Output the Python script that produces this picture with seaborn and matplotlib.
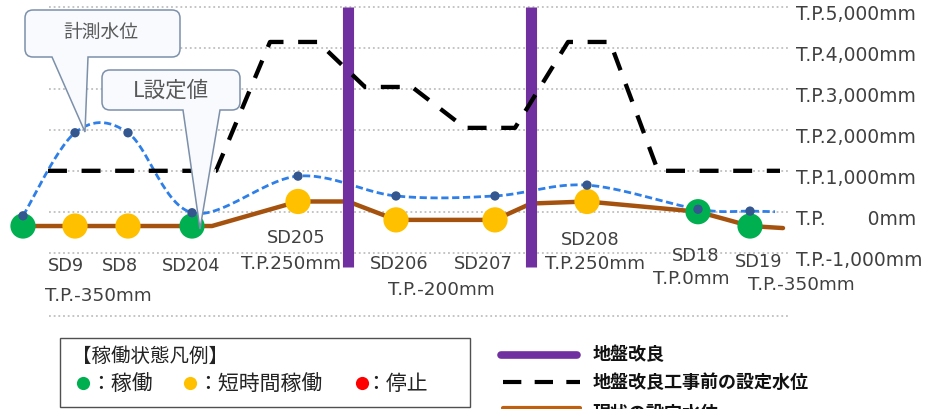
import numpy as np
import pandas as pd
import matplotlib
matplotlib.use("Agg")
import matplotlib.pyplot as plt
import matplotlib.transforms as mtransforms
from matplotlib.path import Path
from matplotlib.patches import PathPatch, Rectangle
from matplotlib.lines import Line2D
import seaborn as sns

# ---------------------------------------------------------------- data
# drainage pump stations along the route (position = chainage, drawing units)
stations = ["", "SD9", "SD8", "SD204", "SD205", "SD206", "SD207", "SD208", "SD18", "SD19"]
station_pos = [23, 75, 128, 192, 298, 396, 495, 587, 698, 750]
station_status = ["稼働", "短時間稼働", "短時間稼働", "稼働", "短時間稼働",
                  "短時間稼働", "短時間稼働", "短時間稼働", "稼働", "稼働"]
# current set water level at each station (mm, T.P.)
station_setting = [-350, -350, -350, -350, 250, -200, -200, 250, 0, -350]

# current set level line, incl. the breaks at the ground-improvement walls
setting_pos = [23, 75, 128, 192, 212, 298, 348, 396, 495, 531, 587, 698, 750, 783]
setting_level = [-350, -350, -350, -350, -350, 250, 250, -200, -200, 200, 250, 0, -350, -400]

# measured water level (mm, T.P.); the last point closes the curve
measured_pos = [23, 75, 128, 192, 298, 396, 495, 587, 698, 750, 775]
measured_level = [-100, 1930, 1930, -25, 870, 385, 385, 650, 60, 15, 0]

# set level before the ground-improvement works (mm, T.P.)
pre_pos = [48, 216, 270, 318, 365, 412, 465, 515, 568, 610, 658, 780]
pre_level = [1000, 1000, 4150, 4150, 3050, 3050, 2050, 2050, 4150, 4150, 1000, 1000]

# ground-improvement walls
improvement_pos = [348, 531]
improvement_top = 5000
improvement_bottom = -1350

level_ticks = [5000, 4000, 3000, 2000, 1000, 0, -1000]
level_ticklabels = ["T.P.5,000mm", "T.P.4,000mm", "T.P.3,000mm", "T.P.2,000mm",
                    "T.P.1,000mm", "T.P.       0mm", "T.P.-1,000mm"]

status_colors = {"稼働": "#00B050", "短時間稼働": "#FFC000", "停止": "#FF0000"}

# ---------------------------------------------------------------- style
W, H = 932, 409
sns.set_theme(style="white")
plt.rcParams["font.family"] = ["DejaVu Sans", "Noto Sans CJK JP"]
JP = ["Noto Sans CJK JP", "DejaVu Sans"]
TXT = "#404040"

fig = plt.figure(figsize=(W / 100, H / 100), dpi=100)
fig.patch.set_facecolor("white")
ax = fig.add_axes([0, 1 - 316.7 / H, 790 / W, 316.7 / H])
ax.set_xlim(0, 790)
ax.set_ylim(-2567, 5176)
for s in ax.spines.values():
    s.set_visible(False)
ax.set_facecolor("none")

# pixel-based transform for annotations (origin top-left)
T_px = mtransforms.Affine2D().scale(1 / W, -1 / H).translate(0, 1) + fig.transFigure

# grid
grid_kw = dict(color="#BFBFBF", lw=1.3, linestyle=(0, (1, 1.6)), zorder=1)
ax.hlines(level_ticks, 49, 790, **grid_kw)
ax.hlines([-2567 + 20], 49, 790, **grid_kw)

# right-hand level labels
ax.yaxis.tick_right()
ax.set_yticks(level_ticks)
ax.set_yticklabels(level_ticklabels, fontsize=13.5, color=TXT)
ax.tick_params(axis="y", length=0, pad=4)
ax.set_xticks([])
for lbl in ax.get_yticklabels():
    lbl.set_transform(lbl.get_transform() +
                      mtransforms.ScaledTranslation(0, -4 / 72, fig.dpi_scale_trans))


def smooth_curve(xs, ys, n=30):
    """Bezier smoothing through the points (control arms = neighbour chord / 6)."""
    P = np.column_stack([xs, ys]).astype(float)
    E = np.vstack([P[0], P, P[-1]])
    t = np.linspace(0, 1, n)[:, None]
    parts = []
    for i in range(len(P) - 1):
        p0, p1, p2, p3 = E[i], E[i + 1], E[i + 2], E[i + 3]
        c1 = p1 + (p2 - p0) / 6
        c2 = p2 - (p3 - p1) / 6
        seg = (1 - t) ** 3 * p1 + 3 * (1 - t) ** 2 * t * c1 + 3 * (1 - t) * t ** 2 * c2 + t ** 3 * p2
        parts.append(seg if i == 0 else seg[1:])
    return np.vstack(parts)


# measured water level (smoothed dashed line + markers)
curve = smooth_curve(measured_pos, measured_level)
meas_curve = pd.DataFrame({"pos": curve[:, 0], "level": curve[:, 1]})
sns.lineplot(data=meas_curve, x="pos", y="level", sort=False, estimator=None, ax=ax,
             color="#2F7FE8", lw=2.0, linestyle=(0, (2.6, 1.3)), zorder=3)
meas_df = pd.DataFrame({"pos": measured_pos[:-1], "level": measured_level[:-1]})
sns.scatterplot(data=meas_df, x="pos", y="level", ax=ax, color="#34578F", s=45,
                edgecolor="none", zorder=7, legend=False)

# current set level
set_df = pd.DataFrame({"pos": setting_pos, "level": setting_level})
sns.lineplot(data=set_df, x="pos", y="level", sort=False, estimator=None, ax=ax,
             color="#A5520E", lw=3.2, zorder=4)

# ground-improvement walls
ax.vlines(improvement_pos, improvement_bottom, improvement_top, color="#7030A0",
          lw=8, zorder=5)

# set level before improvement
pre_df = pd.DataFrame({"pos": pre_pos, "level": pre_level})
sns.lineplot(data=pre_df, x="pos", y="level", sort=False, estimator=None, ax=ax,
             color="black", lw=3.1, linestyle=(0, (4.4, 3.4)), zorder=5.5)

# station status markers
st_df = pd.DataFrame({"pos": station_pos, "level": station_setting, "status": station_status})
sns.scatterplot(data=st_df, x="pos", y="level", hue="status", palette=status_colors,
                s=330, edgecolor="none", ax=ax, zorder=6, legend=False, clip_on=False)
ax.set_xlabel("")
ax.set_ylabel("")

# station names
name_xy = {"SD9": (66, 266), "SD8": (120, 266), "SD204": (191, 266),
           "SD205": (296, 238), "SD206": (399, 264), "SD207": (483, 264),
           "SD208": (590, 240), "SD18": (696, 256), "SD19": (759, 262)}
for name in stations:
    if name in name_xy:
        x, y = name_xy[name]
        fig.text(x, y, name, transform=T_px, ha="center", va="center",
                 fontsize=12.8, color=TXT)

# set level notes (value taken from the station setting)
level_notes = [("SD9", 98, 296), ("SD205", 291, 264), ("SD206", 441, 290),
               ("SD208", 595, 264), ("SD18", 691, 279), ("SD19", 801, 285)]
for name, x, y in level_notes:
    v = station_setting[stations.index(name)]
    fig.text(x, y, f"T.P.{v}mm", transform=T_px, ha="center", va="center",
             fontsize=13.2, color=TXT)


# callouts
def callout(x0, y0, x1, y1, ta, tb, tip, r=8):
    verts = [(x0 + r, y0), (x1 - r, y0), (x1, y0), (x1, y0 + r),
             (x1, y1 - r), (x1, y1), (x1 - r, y1),
             (tb, y1), tip, (ta, y1),
             (x0 + r, y1), (x0, y1), (x0, y1 - r),
             (x0, y0 + r), (x0, y0), (x0 + r, y0), (x0 + r, y0)]
    codes = [Path.MOVETO, Path.LINETO, Path.CURVE3, Path.CURVE3,
             Path.LINETO, Path.CURVE3, Path.CURVE3,
             Path.LINETO, Path.LINETO, Path.LINETO,
             Path.LINETO, Path.CURVE3, Path.CURVE3,
             Path.LINETO, Path.CURVE3, Path.CURVE3, Path.CLOSEPOLY]
    p = PathPatch(Path(verts, codes), transform=T_px, facecolor="#F8FAFD",
                  edgecolor="#7C90AA", lw=1.1, zorder=20)
    fig.add_artist(p)


callout(25, 10, 180, 57, 52, 88, (85, 132))
fig.text(101, 32, "計測水位", transform=T_px, ha="center", va="center",
         fontsize=13.5, color="#595959", family=JP, zorder=21)
callout(102, 70, 240, 110, 183, 220, (200, 229))
fig.text(171, 91, "L設定値", transform=T_px, ha="center", va="center",
         fontsize=15.5, color="#595959", family=JP, zorder=21)

# status legend box
fig.add_artist(Rectangle((60, 338), 410, 69, transform=T_px, facecolor="white",
                         edgecolor="#505050", lw=1.0, zorder=20))
fig.text(72, 356, "【稼働状態凡例】", transform=T_px, ha="left", va="center",
         fontsize=14, color="#222222", family=JP, zorder=21)
for st, dx, tx in [("稼働", 83, 90), ("短時間稼働", 190, 197), ("停止", 362, 365)]:
    fig.add_artist(Line2D([dx], [383], transform=T_px, marker="o", markersize=9.5,
                          color=status_colors[st], markeredgewidth=0, zorder=21))
    fig.text(tx, 384, "：" + st, transform=T_px, ha="left", va="center",
             fontsize=15, color="#222222", family=JP, zorder=21)

# line legend
fig.add_artist(Line2D([501, 577], [355, 355], transform=T_px, color="#7030A0", lw=5.5))
fig.add_artist(Line2D([503, 580], [382, 382], transform=T_px, color="black", lw=3,
                      linestyle=(0, (4.4, 3.2))))
fig.add_artist(Line2D([503, 580], [408, 408], transform=T_px, color="#C0600F", lw=3))
for y, t in [(355, "地盤改良"), (382, "地盤改良工事前の設定水位"), (413, "現状の設定水位")]:
    fig.text(593, y, t, transform=T_px, ha="left", va="center", fontsize=13,
             fontweight="bold", color="#111111", family=JP)

fig.savefig("out.png", dpi=100, facecolor="white")
